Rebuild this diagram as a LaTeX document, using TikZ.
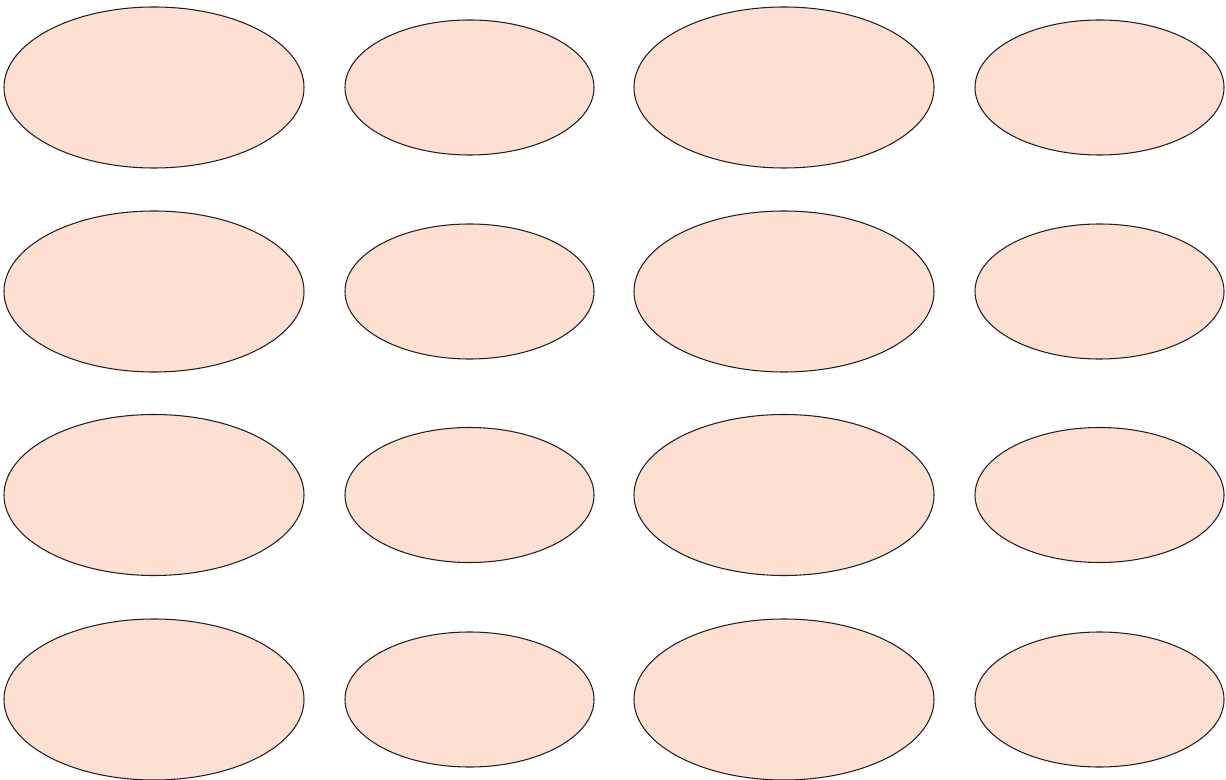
\documentclass[tikz,border=0pt]{standalone}
\usepackage{tikz}
\usetikzlibrary{shapes.geometric}
\definecolor{blobfill}{HTML}{FDE0D2}
\definecolor{blobline}{HTML}{231F20}
\begin{document}
\begin{tikzpicture}[x=1cm,y=1cm,
  blob/.style={draw=blobline,fill=blobfill,ellipse,line width=0.6pt,inner sep=0pt},
  bigblob/.style={blob,minimum width=6cm,minimum height=3.22cm},
  smallblob/.style={blob,minimum width=4.98cm,minimum height=2.7cm}]
\useasboundingbox (0,0) rectangle (24.52,-15.6);
\node[bigblob] (a1) at (3.08,-1.75) {};
\node[smallblob] (b1) at (9.39,-1.75) {};
\node[bigblob] (c1) at (15.68,-1.75) {};
\node[smallblob] (d1) at (21.99,-1.75) {};
\node[bigblob] (a2) at (3.08,-5.83) {};
\node[smallblob] (b2) at (9.39,-5.83) {};
\node[bigblob] (c2) at (15.68,-5.83) {};
\node[smallblob] (d2) at (21.99,-5.83) {};
\node[bigblob] (a3) at (3.08,-9.9) {};
\node[smallblob] (b3) at (9.39,-9.9) {};
\node[bigblob] (c3) at (15.68,-9.9) {};
\node[smallblob] (d3) at (21.99,-9.9) {};
\node[bigblob] (a4) at (3.08,-13.99) {};
\node[smallblob] (b4) at (9.39,-13.99) {};
\node[bigblob] (c4) at (15.68,-13.99) {};
\node[smallblob] (d4) at (21.99,-13.99) {};
\end{tikzpicture}
\end{document}
